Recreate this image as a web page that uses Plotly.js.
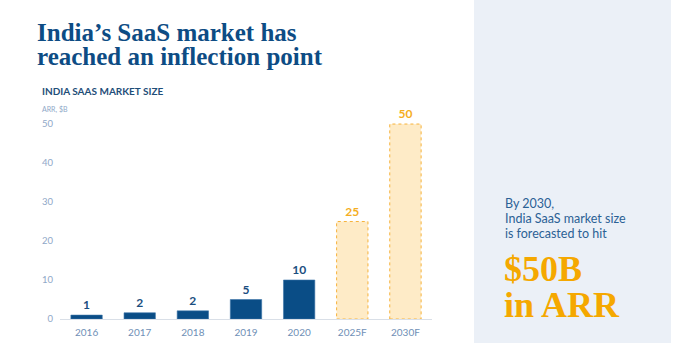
<!DOCTYPE html>
<html>
<head>
<meta charset="utf-8">
<script src="https://cdn.plot.ly/plotly-3.0.1.min.js"></script>
<style>
html,body{margin:0;padding:0;background:#fff;}
#chart{width:692px;height:343px;}
</style>
</head>
<body>
<div id="chart"></div>
<script>
// ---- data ----
var categories = ["2016", "2017", "2018", "2019", "2020", "2025F", "2030F"];
var values = [1.0, 1.6, 2.1, 5, 10, 25, 50];
var valueLabels = ["1", "2", "2", "5", "10", "25", "50"];
var isForecast = [false, false, false, false, false, true, true];
var yTickVals = [0, 10, 20, 30, 40, 50];
var titleLines = ["India’s SaaS market has", "reached an inflection point"];
var sideLines = ["By 2030,", "India SaaS market size", "is forecasted to hit"];
var bigLines = ["$50B", "in ARR"];

// ---- geometry ----
var W = 692, H = 343;
var M = {l: 60, r: 260, t: 110, b: 24};
var PW = W - M.l - M.r, PH = H - M.t - M.b;
function px(x) { return (x - M.l) / PW; }
function py(y) { return (H - M.b - y) / PH; }

var BLUE = "#0A4D86", CREAM = "#FEEBC7", ORANGE = "#F5AE1F";
var SANS = "Lato, 'Open Sans', sans-serif";
var SERIF = "'Liberation Serif', 'DejaVu Serif', serif";

var barW = 0.59;
var actualX = [], actualY = [], actualT = [], fcX = [], fcY = [], fcT = [];
categories.forEach(function (c, i) {
  if (isForecast[i]) { fcX.push(c); fcY.push(values[i]); fcT.push(valueLabels[i]); }
  else { actualX.push(c); actualY.push(values[i]); actualT.push(valueLabels[i]); }
});

var traces = [
  {
    type: "bar", x: actualX, y: actualY, text: actualT, textposition: "outside",
    cliponaxis: false, width: barW,
    marker: {color: BLUE, line: {color: "#3B73A8", width: 0.6}},
    textfont: {family: SANS, size: 12, color: "#1B4E80", weight: 700},
    hoverinfo: "skip"
  },
  {
    type: "bar", x: fcX, y: fcY, text: fcT, textposition: "outside",
    cliponaxis: false, width: barW,
    marker: {color: CREAM, line: {width: 0}},
    textfont: {family: SANS, size: 12, color: ORANGE, weight: 700},
    hoverinfo: "skip"
  }
];

var shapes = [
  {type: "rect", xref: "paper", yref: "paper", x0: px(474), x1: px(671), y0: py(343), y1: py(0),
   fillcolor: "#EBF0F7", line: {width: 0}, layer: "below"}
];
categories.forEach(function (c, i) {
  if (isForecast[i]) {
    shapes.push({type: "rect", xref: "x", yref: "y", x0: i - barW / 2, x1: i + barW / 2, y0: 0, y1: values[i],
      line: {color: "#F6B23A", width: 1, dash: "dot"}, fillcolor: "rgba(0,0,0,0)", layer: "above"});
  }
});

function ann(text, x, y, font, extra) {
  var a = {text: text, xref: "paper", yref: "paper", x: px(x), y: py(y),
    xanchor: "left", yanchor: "middle", showarrow: false, font: font};
  if (extra) for (var k in extra) a[k] = extra[k];
  return a;
}

var annotations = [
  ann(titleLines[0], 35, 32, {family: SERIF, size: 25, color: "#0D4C84", weight: 700}),
  ann(titleLines[1], 35, 57, {family: SERIF, size: 25, color: "#0D4C84", weight: 700}),
  ann("INDIA SAAS MARKET SIZE", 40, 90.5, {family: SANS, size: 10, color: "#1F4E79", weight: 700}),
  ann("ARR, $B", 40, 109, {family: SANS, size: 7, color: "#8FA8C8"}),
  ann(sideLines[0], 503, 203, {family: SANS, size: 12.5, color: "#2B6195"}),
  ann(sideLines[1], 503, 218, {family: SANS, size: 12.5, color: "#2B6195"}),
  ann(sideLines[2], 503, 233, {family: SANS, size: 12.5, color: "#2B6195"}),
  ann(bigLines[0], 502, 269, {family: SERIF, size: 36, color: "#F5A800", weight: 700}),
  ann(bigLines[1], 502, 305, {family: SERIF, size: 36, color: "#F5A800", weight: 700})
];

var layout = {
  width: W, height: H,
  margin: M,
  paper_bgcolor: "#ffffff", plot_bgcolor: "rgba(0,0,0,0)",
  showlegend: false,
  barmode: "overlay",
  xaxis: {
    type: "category", categoryorder: "array", categoryarray: categories,
    range: [-0.5, categories.length - 0.5],
    showline: true, linecolor: "#D9DFE7", linewidth: 1,
    showgrid: false, zeroline: false, ticks: "", ticklabelstandoff: 4,
    tickfont: {family: SANS, size: 10, color: "#6F8FB6"}
  },
  yaxis: {
    range: [0, 53.6], tickvals: yTickVals, showgrid: false, zeroline: false,
    showline: false, ticks: "", ticklabelstandoff: 6,
    tickfont: {family: SANS, size: 9.5, color: "#8FA8C8"}
  },
  shapes: shapes,
  annotations: annotations
};

Plotly.newPlot("chart", traces, layout, {displayModeBar: false, staticPlot: true});
</script>
</body>
</html>
